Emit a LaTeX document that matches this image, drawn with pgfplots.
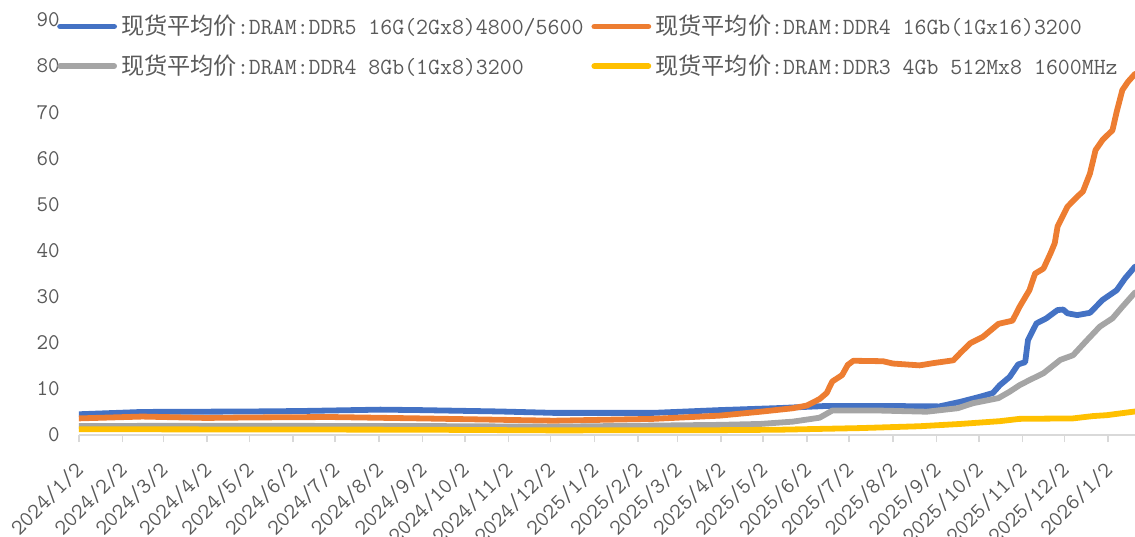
\documentclass[border=0pt]{standalone}
\usepackage{pgfplots}
\usepackage{pgfplotstable}
\pgfplotsset{compat=1.18}
\usepackage{fontspec}
\newfontfamily\cjk{Noto Sans CJK SC}
\definecolor{sBlue}{HTML}{4472C4}
\definecolor{sOrange}{HTML}{ED7D31}
\definecolor{sGray}{HTML}{A5A5A5}
\definecolor{sYellow}{HTML}{FFC000}
\definecolor{axGray}{HTML}{D9D9D9}
\definecolor{txGray}{HTML}{595959}
\newcommand{\lf}{\fontsize{11.6bp}{13bp}\selectfont}
\newcommand{\tf}{\fontsize{11.2bp}{13bp}\selectfont}

\pgfplotstableread{
d v
0 4.5
45 5.0
121 5.1
157 5.2
214 5.5
242 5.4
299 5.1
337 4.8
408 4.8
455 5.4
498 5.85
531 6.3
569 6.3
611 6.2
626 7.2
640 8.3
649 9.1
654 10.8
661 12.6
667 15.3
672 15.8
674 20.6
680 24.2
687 25.3
695 27.1
699 27.2
702 26.4
709 26.0
718 26.5
727 29.3
737 31.4
743 34.0
750 36.5
}\ddrfive

\pgfplotstableread{
d v
0 3.6
45 4.0
90 3.7
121 3.8
178 3.9
242 3.6
337 3.1
408 3.5
455 4.2
484 5.05
507 5.8
517 6.4
526 7.8
531 9.1
535 11.6
542 13.0
546 15.2
550 16.1
571 16.0
578 15.5
597 15.1
607 15.6
621 16.2
626 17.8
633 19.9
642 21.3
653 24.1
663 24.8
668 27.8
675 31.4
679 35.0
685 36.1
690 39.4
693 41.6
695 45.2
702 49.5
709 51.7
713 52.8
718 56.7
722 61.8
727 64.0
734 66.1
737 70.1
741 74.8
745 76.6
750 78.3
}\ddrfoursixteen

\pgfplotstableread{
d v
0 1.95
86 2.0
242 1.95
337 1.8
455 2.2
484 2.4
507 2.9
526 3.75
535 5.3
569 5.3
602 5.05
624 5.8
635 6.9
653 8.0
661 9.4
668 10.8
675 11.9
685 13.4
697 16.3
706 17.3
716 20.6
725 23.5
734 25.3
741 27.8
750 30.9
}\ddrfoureight

\pgfplotstableread{
d v
0 1.25
242 1.15
337 1.0
455 1.05
498 1.15
555 1.5
597 1.9
626 2.4
654 3.0
668 3.5
706 3.6
720 4.1
730 4.3
750 5.1
}\ddrthree

\begin{document}
\begin{tikzpicture}
\begin{axis}[
  at={(0,0)}, anchor=south west,
  scale only axis, width=528bp, height=207.5bp,
  xmin=0, xmax=750, ymin=0, ymax=90,
  axis x line*=bottom, axis y line*=left,
  x axis line style={draw=axGray, line width=1bp},
  y axis line style={draw=none},
  xtick={0,31,60,91,121,152,182,213,244,274,305,335,366,397,425,456,486,517,547,578,609,639,670,700,731},
  xticklabels={2024/1/2,2024/2/2,2024/3/2,2024/4/2,2024/5/2,2024/6/2,2024/7/2,2024/8/2,2024/9/2,2024/10/2,2024/11/2,2024/12/2,2025/1/2,2025/2/2,2025/3/2,2025/4/2,2025/5/2,2025/6/2,2025/7/2,2025/8/2,2025/9/2,2025/10/2,2025/11/2,2025/12/2,2026/1/2},
  tick align=outside, major tick length=3.5bp,
  x tick style={draw=axGray, line width=0.8bp},
  y tick style={draw=none},
  ytick={0,10,...,90},
  ticklabel style={font=\tf\ttfamily, text=txGray},
  xticklabel style={yshift=-12bp, xshift=0.5bp, rotate=45, anchor=east, inner sep=0pt},
  yticklabel style={anchor=east, inner sep=0pt, xshift=-6bp},
  /pgf/number format/assume math mode=true,
  legend columns=2,
  legend cell align=left,
  legend style={at={(axis description cs:-0.021,1.022)}, anchor=north west,
    draw=none, fill=none, inner sep=0pt, font=\lf, text=txGray,
    row sep=4.5bp,
    /tikz/every even column/.append style={column sep=2bp}},
  legend image code/.code={\draw[#1] (0bp,0bp) -- (27bp,0bp);},
  every axis plot/.append style={line width=2.9bp, line cap=round, line join=round},
]
\addplot[sBlue] table[x=d,y=v]{\ddrfive};
\addlegendentry{{\cjk 现货平均价}\texttt{:DRAM:DDR5 16G(2Gx8)4800/5600}}
\addplot[sOrange] table[x=d,y=v]{\ddrfoursixteen};
\addlegendentry{{\cjk 现货平均价}\texttt{:DRAM:DDR4 16Gb(1Gx16)3200}}
\addplot[sGray] table[x=d,y=v]{\ddrfoureight};
\addlegendentry{{\cjk 现货平均价}\texttt{:DRAM:DDR4 8Gb(1Gx8)3200}}
\addplot[sYellow] table[x=d,y=v]{\ddrthree};
\addlegendentry{{\cjk 现货平均价}\texttt{:DRAM:DDR3 4Gb 512Mx8 1600MHz}}
\end{axis}
\pgfresetboundingbox
\path (-39.5bp,-51bp) rectangle (528bp,217.5bp);
\end{tikzpicture}
\end{document}
